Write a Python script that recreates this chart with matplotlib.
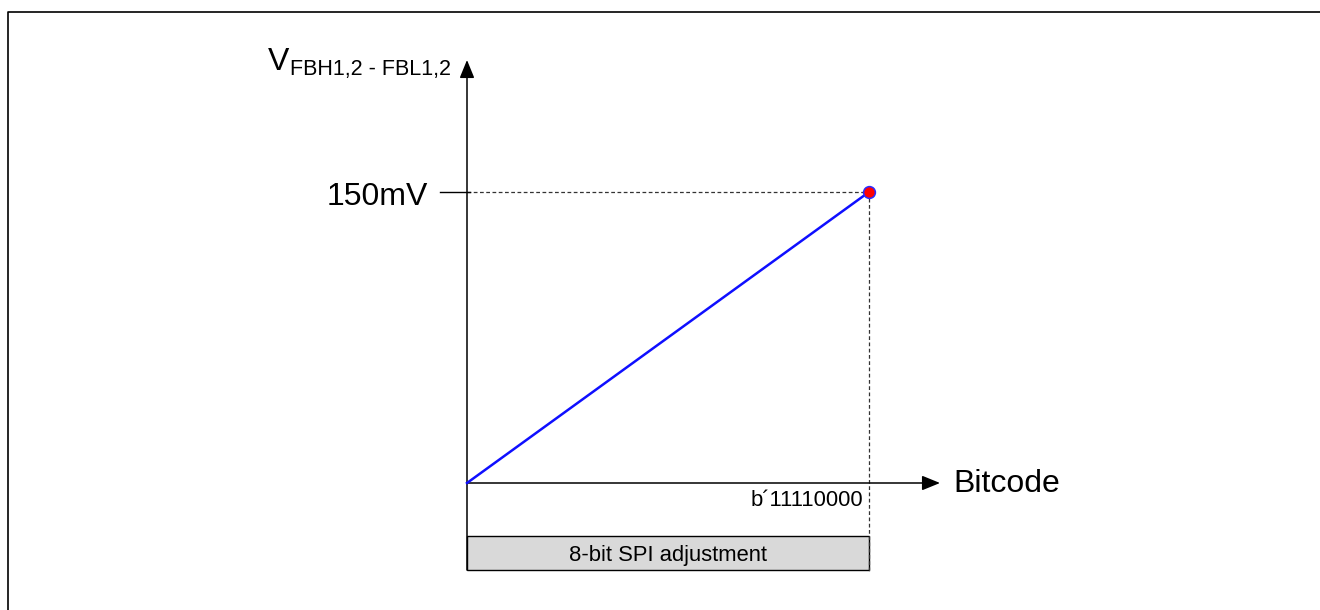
import matplotlib
matplotlib.use("Agg")
import matplotlib.pyplot as plt
from matplotlib.lines import Line2D
from matplotlib.patches import Rectangle
from matplotlib.transforms import IdentityTransform, blended_transform_factory

plt.rcParams["font.family"] = ["Liberation Sans", "DejaVu Sans"]

# ── Transfer characteristic: SPI code -> differential voltage ────────────────
bitcode    = [0, 0b11110000]
voltage_mv = [0, 150]
code_label = "b\u00b411110000"
volt_label = "150mV"
x_title    = "Bitcode"
y_title    = "V"
y_sub      = "FBH1,2 - FBL1,2"
box_label  = "8-bit SPI adjustment"

W, H = 1320, 610
ORIGIN = (467, 483)       # pixel position of (0, 0), from top-left
FULL   = (869, 192)       # pixel position of the full-scale point


def up(y_top):
    """Pixel row measured from the top -> display y (from the bottom)."""
    return H - y_top


fig = plt.figure(figsize=(W / 100, H / 100), dpi=100)
ax = fig.add_axes([ORIGIN[0] / W, up(ORIGIN[1]) / H,
                   (FULL[0] - ORIGIN[0]) / W, (ORIGIN[1] - FULL[1]) / H])
ax.set_xlim(bitcode[0], bitcode[-1])
ax.set_ylim(voltage_mv[0], voltage_mv[-1])
ax.axis("off")

pix = IdentityTransform()
x_data_y_pix = blended_transform_factory(ax.transData, pix)
x_pix_y_data = blended_transform_factory(pix, ax.transData)

# outer frame (only top and left edges fall inside the canvas)
fig.add_artist(Line2D([8, 8, W + 5], [-5, up(12), up(12)],
                      transform=pix, color="black", lw=1.2))

arrow = dict(arrowstyle="-|>,head_length=1.1,head_width=0.45",
             mutation_scale=10, color="black", lw=1.1,
             shrinkA=0, shrinkB=0)

# y axis (runs down to the bottom of the adjustment box)
ax.annotate("", xy=(0, up(60)), xycoords=x_data_y_pix,
            xytext=(0, up(570)), textcoords=x_data_y_pix,
            arrowprops=arrow, annotation_clip=False)
# x axis
ax.annotate("", xy=(940, 0), xycoords=x_pix_y_data,
            xytext=(0, 0), textcoords="data",
            arrowprops=arrow, annotation_clip=False)

# reference lines to the full-scale point
dash = dict(color="#333333", lw=0.9, dashes=(3, 2), clip_on=False)
ax.plot([bitcode[0], bitcode[-1]], [voltage_mv[-1]] * 2, **dash)
ax.add_line(Line2D([bitcode[-1]] * 2, [up(FULL[1]), up(573)],
                   transform=x_data_y_pix, **dash))

# tick mark on the y axis
ax.add_line(Line2D([440, 470], [voltage_mv[-1]] * 2,
                   transform=x_pix_y_data, color="black", lw=1.0, clip_on=False))

# characteristic
ax.plot(bitcode, voltage_mv, color="#0f0fff", lw=1.8, clip_on=False, zorder=4)
ax.plot(bitcode[-1], voltage_mv[-1], "o", ms=8.5, mfc="#ff0000",
        mec="#2a2aff", mew=1.1, clip_on=False, zorder=5)

# labels
ax.annotate(volt_label, xy=(0, voltage_mv[-1]), xytext=(-39, -13),
            textcoords="offset pixels", ha="right", va="baseline",
            fontsize=23, annotation_clip=False)
ax.annotate(x_title, xy=(0, 0), xytext=(953 - ORIGIN[0], -9),
            textcoords="offset pixels", ha="left", va="baseline",
            fontsize=23, annotation_clip=False)
ax.annotate(code_label, xy=(bitcode[-1], 0), xytext=(-6, -23),
            textcoords="offset pixels", ha="right", va="baseline",
            fontsize=15.8, annotation_clip=False)

fig.text(268, up(70), y_title, transform=pix, fontsize=23,
         ha="left", va="baseline")
fig.text(290, up(75), y_sub, transform=pix, fontsize=15.5,
         ha="left", va="baseline")

# adjustment range box under the x axis
ax.add_patch(Rectangle((bitcode[0], up(570)), bitcode[-1] - bitcode[0], 34,
                       transform=x_data_y_pix, facecolor="#d9d9d9",
                       edgecolor="black", lw=1.0, clip_on=False))
ax.text(sum(bitcode) / 2, up(561), box_label, transform=x_data_y_pix,
        ha="center", va="baseline", fontsize=15.8)

fig.savefig("out.png", dpi=100)
